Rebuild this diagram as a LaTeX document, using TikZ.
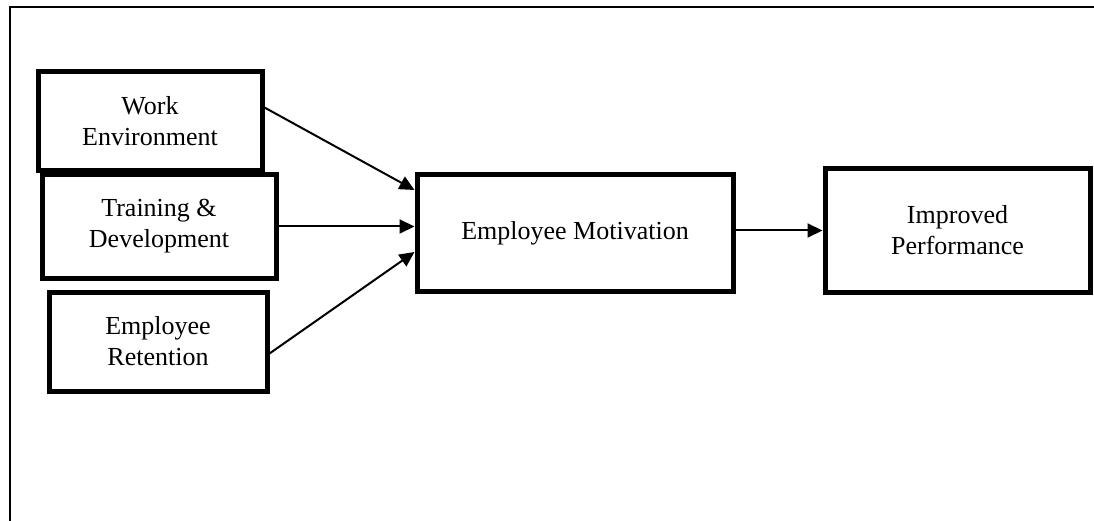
\documentclass[tikz,border=0pt]{standalone}
\usepackage{fontspec}
\setmainfont{Liberation Serif}
\usetikzlibrary{arrows.meta}

\definecolor{boxcolor}{RGB}{0,0,0}

\begin{document}
\begin{tikzpicture}[x=1pt, y=-1pt,
    factor/.style={draw=boxcolor, line width=5pt, align=center, inner sep=0pt,
      font=\fontsize{26}{31}\selectfont},
    link/.style={line width=2pt, -{Triangle[length=15pt, width=14pt]}}]
  \useasboundingbox (0,0) rectangle (1094,521);

  % Draw the open frame
  \draw[line width=2pt] (10,521) -- (10,7) -- (1094,7);

  % Factor boxes
  \node[factor, minimum width=224pt, minimum height=99pt] (work) at (150,121.5) {Work\\Environment};
  \node[factor, minimum width=234pt, minimum height=103pt] (train) at (159,226.5) {Training \&\\Development};
  \node[factor, minimum width=218pt, minimum height=99pt] (ret) at (158,341.5) {Employee\\Retention};
  \node[factor, minimum width=316pt, minimum height=116pt] (mot) at (575,233) {Employee Motivation};
  \node[factor, minimum width=265pt, minimum height=123pt] (imp) at (957.5,230.5) {Improved\\Performance};

  % Arrows into and out of motivation
  \draw[link] ([yshift=14pt]work.east) -- ([yshift=43pt]mot.west);
  \draw[link] (train.east) -- (train.east -| mot.west);
  \draw[link] ([yshift=-12pt]ret.east) -- ([yshift=-19pt]mot.west);
  \draw[link] (imp.west -| mot.east) -- (imp.west);
\end{tikzpicture}
\end{document}
